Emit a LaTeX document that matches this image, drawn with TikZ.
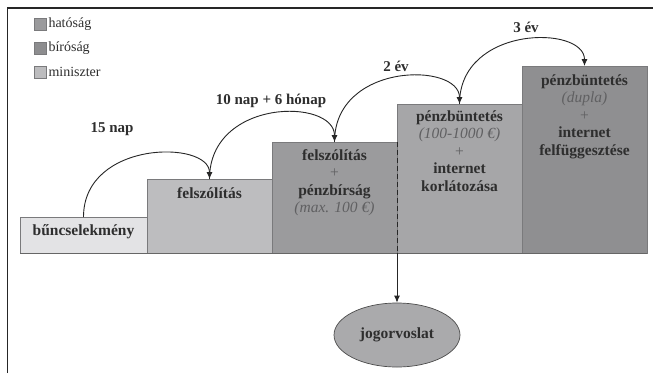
\documentclass[tikz,border=0pt]{standalone}
\usepackage{fontspec}
\setmainfont{Liberation Serif}
\usetikzlibrary{arrows.meta,shapes.geometric}
\definecolor{cA}{HTML}{E3E3E5}
\definecolor{cB}{HTML}{BDBDBF}
\definecolor{cC}{HTML}{9B9B9D}
\definecolor{cD}{HTML}{A6A6A8}
\definecolor{cE}{HTML}{8F8F91}
\definecolor{cEll}{HTML}{AAAAAC}
\definecolor{lgA}{HTML}{9A9A9C}
\definecolor{lgB}{HTML}{8D8D8F}
\definecolor{lgC}{HTML}{BCBCBE}
\definecolor{txt}{HTML}{2E2E2E}
\definecolor{ital}{HTML}{606062}
\definecolor{edge}{HTML}{7A7A7C}
\newcommand{\ls}{\strut}
\begin{document}
\begin{tikzpicture}[x=1pt,y=-1pt,
  stepbox/.style={draw=edge, line width=0.6pt, inner sep=0pt, outer sep=0pt, anchor=north west},
  lbl/.style={text=txt, font=\fontsize{15.5}{17.5}\selectfont\bfseries, align=center, inner sep=0pt},
  arrlbl/.style={text=txt, font=\fontsize{15}{16}\selectfont\bfseries, inner sep=0pt},
  legbox/.style={draw=edge, line width=0.6pt, minimum size=12pt, inner sep=0pt},
  legtxt/.style={text=txt, font=\fontsize{14}{16}\selectfont, anchor=west, inner sep=1.5pt},
  conn/.style={line width=0.9pt, draw=black!85, -{Latex[length=7pt,width=6pt]}}
]
\useasboundingbox (0,0) rectangle (653,373);
\fill[white] (0,0) rectangle (653,373);
\draw[line width=1.3pt, black!85] (7.5,373) -- (7.5,8) -- (653,8);

% legend
\node[legbox, fill=lgA] (l1) at (40.5,24) {};
\node[legtxt] (lt1) at (l1.east) {hatóság};
\node[legbox, fill=lgB] (l2) at (40.5,48) {};
\node[legtxt] (lt2) at (l2.east) {bíróság};
\node[legbox, fill=lgC] (l3) at (40.5,72) {};
\node[legtxt] (lt3) at (l3.east) {miniszter};

% steps
\node[stepbox, fill=cA, minimum width=127pt, minimum height=36pt] (b1) at (20,217) {};
\node[stepbox, fill=cB, minimum width=125pt, minimum height=74pt] (b2) at (147,179) {};
\node[stepbox, fill=cC, minimum width=125pt, minimum height=111pt] (b3) at (272,142) {};
\node[stepbox, fill=cD, minimum width=125pt, minimum height=149pt] (b4) at (397,104) {};
\node[stepbox, fill=cE, minimum width=125pt, minimum height=187pt] (b5) at (522,66) {};
\draw[line width=0.9pt, black!60] (b1.south west) -- (b5.south east);

% texts
\node[lbl] (t1) at (83.5,232) {bűncselekmény};
\node[lbl] (t2) at (209.5,193) {felszólítás};
\node[lbl, anchor=north] (t3) at (334.5,148) {\ls felszólítás\\\ls{\mdseries\color{ital}+}\\\ls pénzbírság\\\ls{\mdseries\itshape\color{ital}(max. 100 €)}};
\node[lbl, anchor=north] (t4) at (459.5,109) {\ls pénzbüntetés\\\ls{\mdseries\itshape\color{ital}(100-1000 €)}\\\ls{\mdseries\color{ital}+}\\\ls internet\\\ls korlátozása};
\node[lbl, anchor=north] (t5) at (584.5,73) {\ls pénzbüntetés\\\ls{\mdseries\itshape\color{ital}(dupla)}\\\ls{\mdseries\color{ital}+}\\\ls internet\\\ls felfüggesztése};

% ellipse
\node[ellipse, draw=black!70, line width=0.7pt, fill=cEll, minimum width=126pt, minimum height=64pt, inner sep=0pt,
  text=txt, font=\fontsize{15.5}{17}\selectfont\bfseries] (jog) at (397,335) {jogorvoslat};

% connectors
\draw[line width=0.9pt, black!85, dashed, dash pattern=on 5pt off 3pt] (b3.north east) -- (b3.south east);
\draw[conn] (b3.south east) -- (jog.north);

\draw[conn] (b1.north) .. controls (83.5,140) and (209.5,140) .. (b2.north);
\draw[conn] (b2.north) .. controls (209.5,98) and (334.5,98) .. (b3.north);
\draw[conn] (b3.north) .. controls (334.5,62) and (459.5,62) .. (b4.north);
\draw[conn] (b4.north) .. controls (459.5,25) and (584.5,25) .. (b5.north);

% connector labels
\node[arrlbl] (a1) at (112,129) {15 nap};
\node[arrlbl] (a2) at (271,101) {10 nap + 6 hónap};
\node[arrlbl] (a3) at (396,66) {2 év};
\node[arrlbl] (a4) at (526,27) {3 év};
\end{tikzpicture}
\end{document}
